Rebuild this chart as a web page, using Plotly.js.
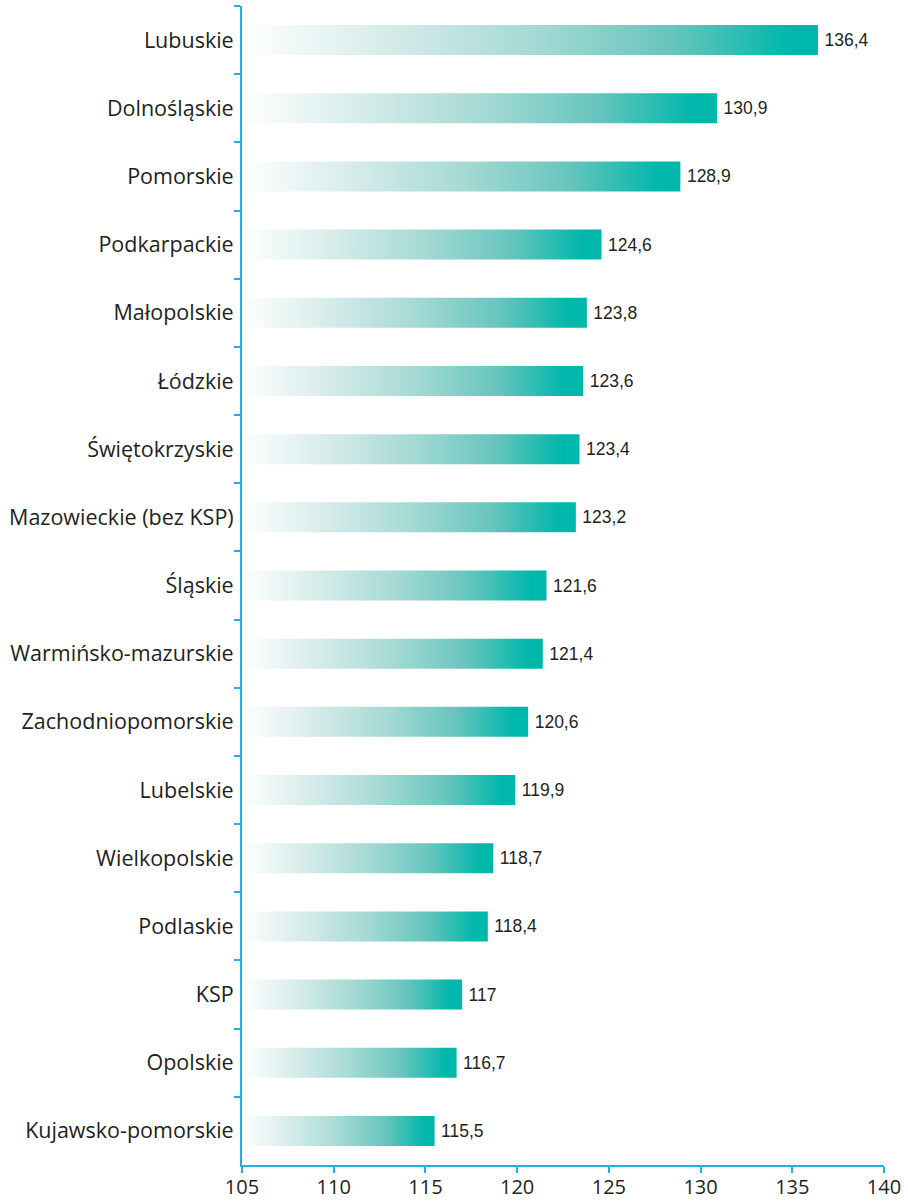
<!DOCTYPE html>
<html>
<head>
<meta charset="utf-8">
<script src="https://cdn.plot.ly/plotly-3.0.1.min.js"></script>
<style>html,body{margin:0;padding:0;background:#fff;}#chart{width:908px;height:1203px;}</style>
</head>
<body>
<div id="chart"></div>
<script>
const regions = ["Lubuskie","Dolnośląskie","Pomorskie","Podkarpackie","Małopolskie","Łódzkie","Świętokrzyskie","Mazowieckie (bez KSP)","Śląskie","Warmińsko-mazurskie","Zachodniopomorskie","Lubelskie","Wielkopolskie","Podlaskie","KSP","Opolskie","Kujawsko-pomorskie"];
const values = [136.4,130.9,128.9,124.6,123.8,123.6,123.4,123.2,121.6,121.4,120.6,119.9,118.7,118.4,117,116.7,115.5];
const xTicks = [105,110,115,120,125,130,135,140];

const BASE = 105;
const axisColor = '#1fb1e6';
const textColor = '#231f20';

const trace = {
  type: 'bar',
  orientation: 'h',
  y: regions,
  x: values.map(v => v - BASE),
  base: BASE,
  width: 0.44,
  marker: {color: '#00b7ab', line: {width: 0}},
  text: values.map(v => '\u2009' + String(v).replace('.', ',')),
  textposition: 'outside',
  cliponaxis: false,
  textfont: {family: 'Liberation Sans', size: 17.5, color: textColor},
  hoverinfo: 'skip'
};

const layout = {
  width: 908, height: 1203,
  margin: {l: 242, r: 24, t: 6, b: 38},
  paper_bgcolor: '#fff', plot_bgcolor: '#fff',
  showlegend: false,
  font: {family: 'Open Sans', color: textColor},
  xaxis: {
    range: [105, 140], tickvals: xTicks, ticktext: xTicks.map(String),
    showgrid: false, zeroline: false,
    showline: true, linecolor: axisColor, linewidth: 2,
    ticks: 'outside', ticklen: 6, tickwidth: 2, tickcolor: axisColor,
    tickfont: {family: 'Open Sans', size: 20, color: textColor},
    ticklabelstandoff: -3
  },
  yaxis: {
    type: 'category', categoryorder: 'array', categoryarray: regions,
    range: [regions.length - 0.5, -0.5],
    showgrid: false, zeroline: false,
    showline: true, linecolor: axisColor, linewidth: 2,
    ticks: 'outside', tickson: 'boundaries', ticklen: 6, tickwidth: 2, tickcolor: axisColor,
    tickfont: {family: 'Open Sans', size: 21.5, color: textColor},
    ticklabelstandoff: 2
  }
};

Plotly.newPlot('chart', [trace], layout, {displayModeBar: false, staticPlot: true}).then(gd => {
  const svg = gd.querySelector('svg.main-svg');
  const ns = 'http://www.w3.org/2000/svg';
  let defs = svg.querySelector('defs');
  if (!defs) { defs = document.createElementNS(ns, 'defs'); svg.insertBefore(defs, svg.firstChild); }
  const grad = document.createElementNS(ns, 'linearGradient');
  grad.setAttribute('id', 'barGrad');
  grad.setAttribute('x1', '0'); grad.setAttribute('x2', '1');
  grad.setAttribute('y1', '0'); grad.setAttribute('y2', '0');
  [['0', '#ffffff'], ['0.25', '#d6ecea'], ['0.5', '#a7dad5'], ['0.75', '#66c5bd'], ['0.95', '#00b7ab'], ['1', '#00b7ab']].forEach(([o, c]) => {
    const s = document.createElementNS(ns, 'stop');
    s.setAttribute('offset', o); s.setAttribute('stop-color', c);
    grad.appendChild(s);
  });
  defs.appendChild(grad);
  gd.querySelectorAll('.barlayer .point path').forEach(p => { p.style.fill = 'url(#barGrad)'; });
});
</script>
</body>
</html>
